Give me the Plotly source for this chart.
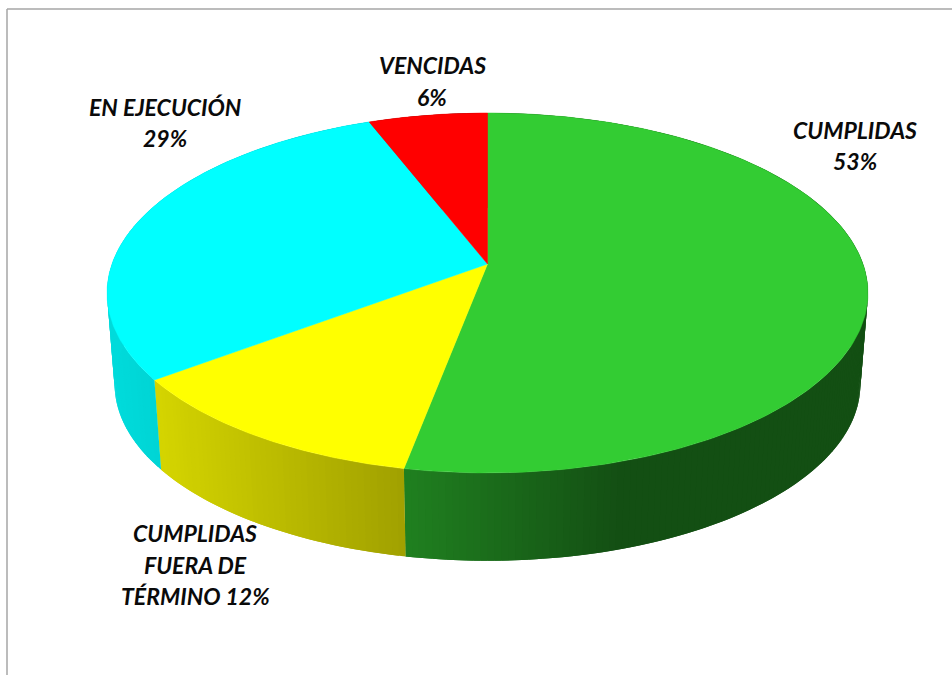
import numpy as np
import plotly.graph_objects as go

# --- data ---
categories = ["CUMPLIDAS", "CUMPLIDAS FUERA DE TÉRMINO", "EN EJECUCIÓN", "VENCIDAS"]
values = [53.0, 11.8, 29.3, 5.9]
base_colors = [(51, 204, 51), (255, 255, 0), (0, 255, 255), (255, 0, 0)]
label_lines = [["CUMPLIDAS", "53%"], ["CUMPLIDAS", "FUERA DE", "TÉRMINO 12%"], ["EN EJECUCIÓN", "29%"], ["VENCIDAS", "6%"]]

# --- projection of the pie disc (perspective view of a unit circle) ---
CX, CY, A, B, K = 487.5, 264.0, 375.5, 175.3, 0.161
DEPTH, SCALE = 92.0, 0.98
label_xy = [(855, (130, 161)), (195, (533, 565, 596)), (165, (107, 138)), (432, (65, 97))]


def project(theta, lower=False):
    u, v = np.sin(theta), np.cos(theta)
    w = 1 + K * v
    x, y = A * u / w, B * v / w
    if lower:
        return CX + SCALE * x, CY + DEPTH - SCALE * y
    return CX + x, CY - y


def shade(x):
    return np.interp(x, [113, 162, 405, 620, 868], [0.86, 0.83, 0.63, 0.39, 0.39])


fig = go.Figure()
fractions = np.cumsum([0] + values) / sum(values)
edges = 2 * np.pi * fractions

# side wall: each strip runs under the next one so that no seam shows
for i, rgb in enumerate(base_colors):
    n = max(3, int(values[i] * 4))
    t = np.linspace(edges[i], edges[i + 1], n + 1)
    step = t[1] - t[0]
    for j, (a, b) in enumerate(zip(t[:-1], t[1:])):
        end = b + step if j < n - 1 else b
        tt = np.linspace(a, end, 5)
        x1, y1 = project(tt)
        x2, y2 = project(tt, True)
        xa, xb = project(np.array([a, b]))[0]
        f = shade((xa + xb) / 2)
        col = "rgb(%d,%d,%d)" % tuple(int(c * f) for c in rgb)
        fig.add_trace(go.Scatter(
            x=np.r_[x1, x2[::-1]], y=np.r_[y1, y2[::-1]], mode="lines", fill="toself",
            fillcolor=col, line=dict(width=0), hoverinfo="skip", showlegend=False))

# top face
for i, rgb in enumerate(base_colors):
    tt = np.linspace(edges[i], edges[i + 1], 200)
    x, y = project(tt)
    col = "rgb(%d,%d,%d)" % rgb
    fig.add_trace(go.Scatter(
        x=np.r_[CX, x, CX], y=np.r_[CY, y, CY], mode="lines", fill="toself",
        fillcolor=col, line=dict(color=col, width=0.5), name=categories[i],
        hoverinfo="name", showlegend=False))

# labels
for lines, (lx, lys) in zip(label_lines, label_xy):
    for line, ly in zip(lines, lys):
        fig.add_annotation(x=lx, y=ly, text=line, showarrow=False, xanchor="center", yanchor="middle",
                           font=dict(family="Lato", size=23, color="#0a0a0a", style="italic", weight="bold"))

# frame
frame = dict(color="#a6a6a6", width=1.5)
fig.add_shape(type="line", x0=7, x1=952, y0=9, y1=9, line=frame)
fig.add_shape(type="line", x0=7, x1=7, y0=9, y1=675, line=frame)

fig.update_layout(
    width=952, height=675, margin=dict(l=0, r=0, t=0, b=0),
    paper_bgcolor="white", plot_bgcolor="white", showlegend=False,
    xaxis=dict(range=[0, 952], visible=False, fixedrange=True),
    yaxis=dict(range=[675, 0], visible=False, fixedrange=True),
)
fig.write_html("out.html", config=dict(displayModeBar=False),
               post_script="document.body.style.margin='0';document.body.style.overflow='hidden';")
